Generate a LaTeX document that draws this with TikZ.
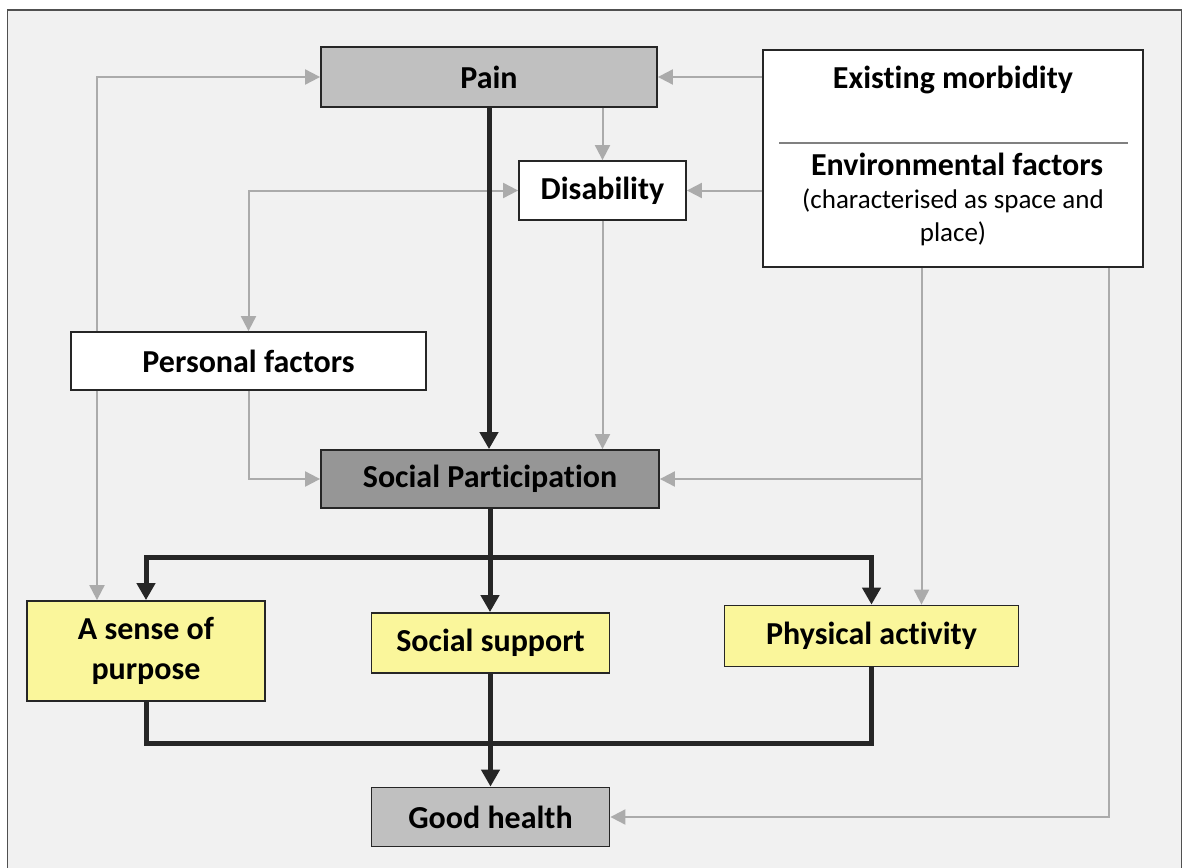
\documentclass[tikz,border=0pt]{standalone}
\usepackage{fontspec}
\setmainfont[Ligatures={NoCommon,NoRare,NoContextual}]{Carlito}
\usetikzlibrary{arrows.meta}
\definecolor{pagebg}{HTML}{F1F1F1}
\definecolor{framecol}{HTML}{505050}
\definecolor{boxline}{HTML}{262626}
\definecolor{darkline}{HTML}{262626}
\definecolor{lightline}{HTML}{ABABAB}
\definecolor{painfill}{HTML}{C0C0C0}
\definecolor{partfill}{HTML}{969696}
\definecolor{yellowfill}{HTML}{FAF69B}
% keep t and i as separate glyphs
\newcommand{\tisep}{t\kern0pt i}
\tikzset{
  box/.style={draw=boxline, line width=1.8pt, rectangle, inner sep=0pt,
    align=center, font=\fontsize{32}{40}\selectfont\bfseries},
  whitebox/.style={box, fill=white},
  greybox/.style={box, fill=painfill},
  partbox/.style={box, fill=partfill},
  yellowbox/.style={box, fill=yellowfill},
  gl/.style={draw=lightline, line width=2pt,
    -{Triangle[length=15pt,width=15pt]}},
  glboth/.style={draw=lightline, line width=2pt,
    {Triangle[length=15pt,width=15pt]}-{Triangle[length=15pt,width=15pt]}},
  dl/.style={draw=darkline, line width=5pt,
    -{Triangle[length=17pt,width=18pt]}},
  dlplain/.style={draw=darkline, line width=5pt},
}
\begin{document}
\begin{tikzpicture}[x=1pt, y=-1pt]
\useasboundingbox (0,0) rectangle (1190,867);
\fill[white] (0,0) rectangle (1190,867);
% outer panel
\draw[framecol, line width=1.6pt, fill=pagebg] (7.5,10) rectangle (1181.5,900);

% boxes
\node[greybox, minimum width=336pt, minimum height=60pt] (pain) at (489,77) {Pain};
\node[whitebox, minimum width=380pt, minimum height=217pt] (env) at (953,158.5) {};
\node[whitebox, minimum width=167pt, minimum height=59pt] (dis) at (602.5,190.5) {Disability};
\node[whitebox, minimum width=355pt, minimum height=58pt] (pf) at (248.5,361) {Personal factors};
\node[partbox, minimum width=338pt, minimum height=58pt] (sp) at (490,479) {Social Par\tisep cipa\tisep on};
\node[yellowbox, minimum width=238pt, minimum height=100pt] (sop) at (146,651) {A sense of\\purpose};
\node[yellowbox, minimum width=238pt, minimum height=60pt] (ss) at (490.5,643) {Social support};
\node[yellowbox, minimum width=294pt, minimum height=61pt] (pa) at (871.5,636) {Physical ac\tisep vity};
\node[greybox, minimum width=238pt, minimum height=59pt] (gh) at (490.5,817) {Good health};

% contents of the combined box
\node[font=\fontsize{32}{40}\selectfont\bfseries] (em) at (953,80) {Exis\tisep ng morbidity};
\draw[draw=gray, line width=1.5pt] (779,143) -- (1128,143);
\node[font=\fontsize{32}{40}\selectfont\bfseries] (ef) at (957,164) {Environmental factors};
\node[font=\fontsize{27}{33}\selectfont, align=center] (ec) at (953,217) {(characterised as space and\\place)};

% routing columns and rows
\coordinate (xL) at (97,0);
\coordinate (xM) at (921.5,0);
\coordinate (xR) at (1108.5,0);
\coordinate (yA) at (0,557);
\coordinate (yB) at (0,743);

% light connectors
\draw[gl] (pf.north -| xL) |- (pain.west);
\draw[gl] (env.west |- pain.east) -- (pain.east);
\draw[gl] (pain.south -| dis.north) -- (dis.north);
\draw[gl] (env.west |- dis.east) -- (dis.east);
\draw[glboth] (pf.north) |- (dis.west);
\draw[gl] (dis.south) -- (dis.south |- sp.north);
\draw[gl] (pf.south) |- (sp.west);
\draw[gl] (pf.south -| xL) -- (xL |- sop.north);
\draw[gl] (env.south -| xM) -- (xM |- pa.north);
\draw[gl] (xM |- sp.east) -- (sp.east);
\draw[gl] (env.south -| xR) |- (gh.east);

% dark connectors
\draw[dl] (pain.south) -- (pain.south |- sp.north);
\draw[dl] (sp.south) -- (sp.south |- ss.north);
\draw[dl] (yA -| sp.south) -| (sop.north);
\draw[dl] (yA -| sp.south) -| (pa.north);
\draw[dlplain] (sop.south) |- (pa.south |- yB) -- (pa.south);
\draw[dl] (ss.south) -- (gh.north);
\end{tikzpicture}
\end{document}
